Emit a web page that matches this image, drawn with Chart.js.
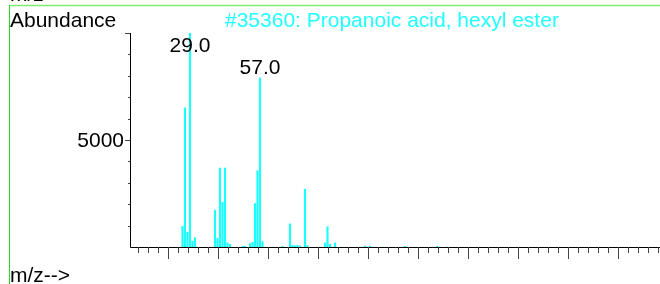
<!DOCTYPE html>
<html>
<head>
<meta charset="utf-8">
<script src="https://cdn.jsdelivr.net/npm/chart.js@4"></script>
<style>
  html, body { margin: 0; padding: 0; background: #fff; }
  #wrap { width: 660px; height: 284px; position: relative; }
</style>
</head>
<body>
<div id="wrap"><canvas id="myChart" width="660" height="284"></canvas></div>
<script>
// spectrum #35360
const mz = [26, 27, 28, 29, 30, 31, 39, 40, 41, 42, 43, 44, 45, 50, 51, 53, 54, 55, 56, 57, 58,
            66, 69, 70, 71, 72, 73, 75, 76, 83, 84, 85, 87, 99, 101, 115, 128];
const abundance = [970, 6500, 690, 10000, 280, 440, 1720, 400, 3690, 2090, 3690, 190, 125, 40, 40, 150, 220, 2030, 3560, 7900, 250,
                   30, 1080, 80, 50, 80, 50, 2700, 60, 190, 950, 125, 190, 40, 30, 30, 30];
const peakLabels = [29, 57];
const yLabels = [5000];
const title = '#35360: Propanoic acid, hexyl ester';

const points = mz.map((m, i) => ({ x: m, y: abundance[i] }));

const FONT = '21px "Liberation Sans", Arial, sans-serif';

const frame = {
    id: 'frame',
    afterDraw(chart) {
        const c = chart.ctx;
        const xs = chart.scales.x;
        const ys = chart.scales.y;
        const area = chart.chartArea;
        c.save();

        // green border lines
        c.strokeStyle = '#77ee77';
        c.lineWidth = 1.5;
        c.beginPath();
        c.moveTo(10, 5.5);
        c.lineTo(660, 5.5);
        c.stroke();
        c.strokeStyle = '#22dd22';
        c.lineWidth = 1;
        c.beginPath();
        c.moveTo(9.5, 5);
        c.lineTo(9.5, 284);
        c.stroke();

        // axes
        c.strokeStyle = '#000';
        c.lineWidth = 1;
        c.beginPath();
        c.moveTo(area.left + 0.5, area.top);
        c.lineTo(area.left + 0.5, area.bottom + 0.5);
        c.lineTo(area.right, area.bottom + 0.5);
        c.stroke();

        // x ticks every 4, long every 20
        c.strokeStyle = '#444';
        for (let v = 8; v <= xs.max; v += 4) {
            const px = Math.round(xs.getPixelForValue(v)) + 0.5;
            const len = v % 20 === 0 ? 12 : 6;
            c.beginPath();
            c.moveTo(px, area.bottom);
            c.lineTo(px, area.bottom + len);
            c.stroke();
        }

        // y ticks every 1000
        for (let v = 1000; v <= ys.max; v += 1000) {
            const py = Math.round(ys.getPixelForValue(v)) + 0.5;
            const len = v % 5000 === 0 ? 5 : 2;
            c.beginPath();
            c.moveTo(area.left - len, py);
            c.lineTo(area.left, py);
            c.stroke();
        }

        c.font = FONT;
        c.fillStyle = '#000';
        c.textBaseline = 'middle';
        c.textAlign = 'right';
        yLabels.forEach(v => {
            c.fillText(String(v), area.left - 6, ys.getPixelForValue(v) + 1);
        });

        c.textBaseline = 'alphabetic';
        c.textAlign = 'center';
        peakLabels.forEach(m => {
            const i = mz.indexOf(m);
            const py = Math.max(ys.getPixelForValue(abundance[i]) - 4, 52);
            c.fillText(m.toFixed(1), xs.getPixelForValue(m), py);
        });

        c.textAlign = 'left';
        c.fillText('m/z-->', 10, 1);
        c.fillText('Abundance', 10, 27);
        c.fillText('m/z-->', 10, 282);

        c.fillStyle = '#22ffff';
        c.fillText(title, 225, 27);

        c.restore();
    }
};

const ctx = document.getElementById('myChart');
const chart = new Chart(ctx, {
    type: 'bar',
    data: {
        datasets: [{
            data: points,
            backgroundColor: '#1affff',
            borderWidth: 0,
            barThickness: 1.5,
            grouped: false
        }]
    },
    options: {
        responsive: false,
        animation: false,
        layout: {
            padding: { left: 130, top: 33, right: 0, bottom: 37 }
        },
        scales: {
            x: { type: 'linear', min: 5, max: 217, offset: false, display: false },
            y: { min: 0, max: 10000, display: false }
        },
        plugins: {
            legend: { display: false },
            tooltip: { enabled: false }
        }
    },
    plugins: [frame]
});
</script>
</body>
</html>
